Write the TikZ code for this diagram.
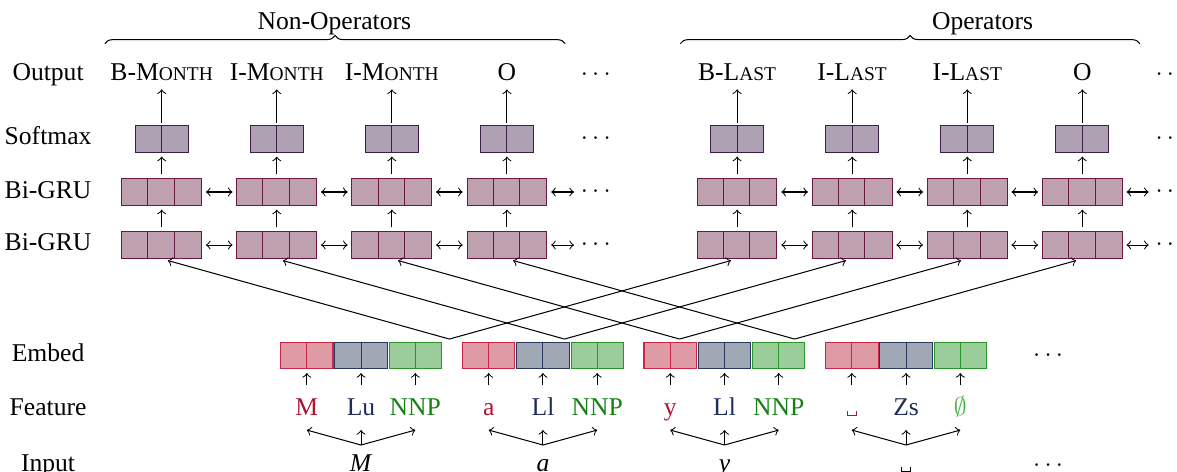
\documentclass[tikz,border=0pt]{standalone}
\usepackage{fontspec}
\setmainfont{Liberation Serif}
\usepackage{amsmath,amssymb}
\usepackage{tikz}
\usetikzlibrary{positioning,calc,decorations.pathreplacing}
\definecolor{smfill}{RGB}{175,161,180}
\definecolor{smline}{RGB}{60,30,75}
\definecolor{grufill}{RGB}{190,160,175}
\definecolor{gruline}{RGB}{105,25,65}
\definecolor{chfill}{RGB}{222,155,165}
\definecolor{chline}{RGB}{200,40,70}
\definecolor{chtext}{RGB}{175,20,50}
\definecolor{ucfill}{RGB}{160,168,182}
\definecolor{ucline}{RGB}{40,55,95}
\definecolor{uctext}{RGB}{30,45,90}
\definecolor{posfill}{RGB}{155,205,155}
\definecolor{posline}{RGB}{40,150,40}
\definecolor{postext}{RGB}{20,130,20}
\definecolor{nonetext}{RGB}{70,175,70}
\newcommand{\smc}[1]{{\fontsize{7.6pt}{9pt}\selectfont #1}}
\newcommand{\blank}{\rule{.4pt}{1.8pt}\rule{3.2pt}{.4pt}\rule{.4pt}{1.8pt}}

\begin{document}
\begin{tikzpicture}[
    cell/.style={draw, inner sep=0pt, minimum height=0.365cm},
    smbox/.style={cell, draw=smline, fill=smfill, minimum width=0.73cm},
    grubox/.style={cell, draw=gruline, fill=grufill, minimum width=1.095cm},
    embbox/.style={cell, minimum width=0.72cm},
    lbl/.style={anchor=base},
    feat/.style={anchor=base, text height=7pt, text depth=2pt},
    dotsn/.style={inner sep=1pt},
    uparr/.style={->, shorten <=1.5pt, shorten >=1.5pt},
    lrarr/.style={<->, shorten <=1.5pt, shorten >=1.5pt},
    brc/.style={decorate, decoration={brace, amplitude=3.2pt}}]
  \useasboundingbox (0,0) rectangle (16.16,-6.467);
  % row labels
  \foreach \name/\yy/\txt in {lout/-1.10/Output, lsm/-1.99/Softmax, lgb/-2.72/Bi-GRU,
      lga/-3.446/Bi-GRU, lemb/-4.96/Embed, lfeat/-5.71/Feature, linp/-6.48/Input}
    \node[lbl] (\name) at (0.66,\yy) {\txt};
  % braces
  \draw[brc] (1.44,-0.60) -- (7.76,-0.60);
  \node[lbl] (nonop) at (4.59,-0.41) {Non-Operators};
  \draw[brc] (9.34,-0.60) -- (15.65,-0.60);
  \node[lbl] (op) at (13.49,-0.41) {Operators};
  % tagger columns
  \foreach \k/\xx/\lab in {1/2.22/B-M\smc{ONTH}, 2/3.80/I-M\smc{ONTH}, 3/5.38/I-M\smc{ONTH}, 4/6.96/O,
      5/10.12/B-L\smc{AST}, 6/11.70/I-L\smc{AST}, 7/13.28/I-L\smc{AST}, 8/14.86/O} {
    \node[lbl] (o\k) at (\xx,-1.10) {\lab};
    \node[smbox] (s\k) at (\xx,-1.908) {};
    \node[grubox] (gb\k) at (\xx,-2.636) {};
    \node[grubox] (ga\k) at (\xx,-3.364) {};
    \draw[smline] (s\k.north) -- (s\k.south);
    \draw[gruline] (gb\k.north west) ++(0.365,0) -- ++(0,-0.365) ++(0.365,0) -- ++(0,0.365);
    \draw[gruline] (ga\k.north west) ++(0.365,0) -- ++(0,-0.365) ++(0.365,0) -- ++(0,0.365);
    \draw[->, shorten <=1pt] (s\k) -- (o\k);
    \draw[uparr] (gb\k) -- (s\k);
    \draw[uparr] (ga\k) -- (gb\k);
  }
  % dots
  \foreach \j/\xx in {1/8.21, 2/16.10} {
    \node[lbl] (dout\j) at (\xx,-1.10) {$\cdots$};
    \node[dotsn] (dsm\j) at (\xx,-1.908) {$\cdots$};
    \node[dotsn] (dgb\j) at (\xx,-2.636) {$\cdots$};
    \node[dotsn] (dga\j) at (\xx,-3.364) {$\cdots$};
  }
  \foreach \a/\b in {1/2, 2/3, 3/4, 5/6, 6/7, 7/8} {
    \draw[lrarr] (gb\a) -- (gb\b);
    \draw[lrarr] (ga\a) -- (ga\b);
  }
  \draw[lrarr] (gb4) -- (dgb1);
  \draw[lrarr] (ga4) -- (dga1);
  \draw[lrarr] (gb8) -- (dgb2);
  \draw[lrarr] (ga8) -- (dga2);
  % embeddings, features and input
  \foreach \g/\xx/\ch/\uc/\pos/\inp in {1/4.957/M/Lu/NNP/\textit{M}, 2/7.455/a/Ll/NNP/\textit{a},
      3/9.947/y/Ll/NNP/\textit{y}, 4/12.44/\blank/Zs/\textcolor{nonetext}{$\emptyset$}/\blank} {
    \node[embbox, draw=chline, fill=chfill] (ec\g) at ({\xx-0.745},-4.88) {};
    \node[embbox, draw=ucline, fill=ucfill] (eu\g) at (\xx,-4.88) {};
    \node[embbox, draw=posline, fill=posfill] (ep\g) at ({\xx+0.745},-4.88) {};
    \draw[chline] (ec\g.north) -- (ec\g.south);
    \draw[ucline] (eu\g.north) -- (eu\g.south);
    \draw[posline] (ep\g.north) -- (ep\g.south);
    \node[feat, text=chtext] (fc\g) at ({\xx-0.745},-5.71) {\ch};
    \node[feat, text=uctext] (fu\g) at (\xx,-5.71) {\uc};
    \node[feat, text=postext] (fp\g) at ({\xx+0.745},-5.71) {\pos};
    \node[feat] (in\g) at (\xx,-6.48) {\inp};
    \draw[uparr] (fc\g) -- (ec\g);
    \draw[uparr] (fu\g) -- (eu\g);
    \draw[uparr] (fp\g) -- (ep\g);
    \draw[->] (in\g.north) -- (fc\g.south);
    \draw[->] (in\g.north) -- (fu\g.south);
    \draw[->] (in\g.north) -- (fp\g.south);
  }
  \node (demb) at (14.42,-4.88) {$\cdots$};
  \node[lbl] (dinp) at (14.42,-6.48) {$\cdots$};
  % from the embeddings to both taggers
  \foreach \k in {1,...,4} {
    \pgfmathtruncatemacro\r{\k+4}
    \coordinate (v\k) at ({6.17+1.58*(\k-1)},-4.655);
    \draw[->, shorten >=2.5pt] (v\k) -- (ga\k.south);
    \draw[->, shorten >=2.5pt] (v\k) -- (ga\r.south);
  }
\end{tikzpicture}
\end{document}
